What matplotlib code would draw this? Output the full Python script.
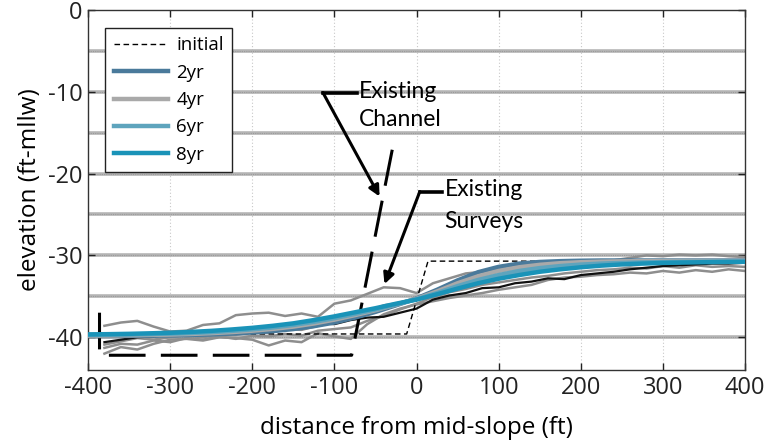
import numpy as np
import matplotlib
matplotlib.use("Agg")
import matplotlib.pyplot as plt

plt.rcParams["font.family"] = ["Open Sans", "DejaVu Sans"]

# ---- model profiles (elevation, ft-mllw) on a 25 ft station grid ----
x_model = np.arange(-400, 401, 25)
yr2 = [-39.85, -39.85, -39.83, -39.80, -39.77, -39.72, -39.65, -39.55, -39.42, -39.25,
       -39.00, -38.65, -38.20, -37.60, -36.90, -36.10, -35.25, -34.20, -33.05, -32.05,
       -31.40, -31.00, -30.80, -30.70, -30.65, -30.62, -30.62, -30.62, -30.62, -30.62,
       -30.62, -30.62, -30.62]
yr4 = [-39.80, -39.79, -39.76, -39.72, -39.67, -39.60, -39.50, -39.37, -39.20, -38.98,
       -38.70, -38.32, -37.85, -37.30, -36.70, -36.00, -35.30, -34.40, -33.40, -32.55,
       -31.90, -31.45, -31.15, -30.95, -30.83, -30.76, -30.72, -30.70, -30.69, -30.68,
       -30.68, -30.68, -30.68]
yr6 = [-39.72, -39.70, -39.67, -39.62, -39.56, -39.48, -39.37, -39.22, -39.03, -38.80,
       -38.50, -38.12, -37.67, -37.15, -36.60, -36.00, -35.35, -34.60, -33.75, -33.00,
       -32.40, -31.90, -31.55, -31.30, -31.12, -31.00, -30.92, -30.86, -30.82, -30.79,
       -30.77, -30.76, -30.75]
yr8 = [-39.65, -39.62, -39.58, -39.52, -39.45, -39.35, -39.22, -39.05, -38.85, -38.60,
       -38.30, -37.90, -37.45, -36.95, -36.45, -35.90, -35.40, -34.75, -34.05, -33.40,
       -32.85, -32.40, -32.00, -31.70, -31.45, -31.25, -31.10, -31.00, -30.92, -30.87,
       -30.83, -30.80, -30.78]

# ---- initial (design) profile ----
x_init = [-400, -12, 14, 400]
y_init = [-39.6, -39.6, -30.7, -30.7]

# ---- existing channel ----
x_chan = [-386, -386, -79, -29]
y_chan = [-37.0, -42.2, -42.2, -16.8]

# ---- existing surveys on a 20 ft station grid ----
x_surv = np.arange(-380, 401, 20)
survey_a = [-38.6, -38.2, -38.0, -38.7, -39.3, -39.2, -38.5, -38.3, -37.3, -37.1,
            -37.0, -37.4, -37.1, -37.5, -35.9, -35.5, -34.7, -33.9, -34.0, -34.6,
            -33.4, -32.8, -32.2, -32.0, -31.7, -31.6, -31.4, -31.3, -31.2, -31.0,
            -30.9, -30.6, -30.3, -30.0, -30.1, -29.9, -30.0, -29.9, -30.1, -30.2]
survey_b = [-42.0, -41.2, -41.5, -40.8, -40.3, -40.2, -40.4, -40.0, -40.1, -40.3,
            -41.0, -40.4, -40.6, -39.5, -39.9, -40.2, -38.4, -37.2, -36.5, -36.0,
            -35.6, -35.2, -34.9, -34.6, -34.2, -33.9, -33.6, -33.0, -32.7, -32.6,
            -32.4, -32.3, -32.1, -32.2, -31.9, -32.1, -31.8, -32.0, -31.7, -31.9]
survey_c = [-40.9, -40.5, -40.1, -40.3, -40.0, -39.8, -40.0, -39.6, -39.7, -39.4,
            -39.5, -39.0, -39.1, -38.6, -38.2, -37.3, -36.9, -36.1, -35.8, -35.3,
            -34.5, -33.9, -33.5, -33.0, -32.6, -32.3, -32.0, -31.8, -31.7, -31.4,
            -31.3, -31.1, -31.2, -30.9, -31.0, -30.8, -30.9, -30.7, -30.9, -30.8]
survey_d = [-41.3, -40.8, -40.9, -40.4, -40.6, -40.1, -40.3, -39.9, -40.2, -39.8,
            -39.9, -39.6, -39.8, -39.2, -39.0, -38.8, -38.0, -37.4, -36.6, -35.9,
            -35.1, -34.5, -34.1, -33.6, -33.3, -33.0, -32.7, -32.5, -32.2, -32.0,
            -31.8, -31.7, -31.5, -31.6, -31.3, -31.5, -31.2, -31.4, -31.3, -31.4]
survey_k = [-40.6, -40.3, -40.0, -39.9, -39.7, -39.8, -39.5, -39.6, -39.3, -39.1,
            -39.2, -38.8, -38.7, -38.3, -38.4, -37.9, -37.6, -37.5, -37.0, -36.5,
            -35.4, -34.9, -34.6, -34.0, -33.9, -33.4, -33.2, -32.8, -32.9, -32.4,
            -32.2, -32.0, -31.7, -31.5, -31.3, -31.2, -31.1, -31.0, -31.0, -30.9]

x_ticks = [-400, -300, -200, -100, 0, 100, 200, 300, 400]
y_ticks = [-40, -30, -20, -10, 0]
band_levels = [-5, -10, -15, -20, -25, -30, -35, -40]

fig = plt.figure(figsize=(7.68, 4.44), dpi=100)
ax = fig.add_axes([0.1146, 0.1667, 0.8555, 0.811])

# grid: dotted verticals, heavy gray horizontals every 5 ft
for xv in x_ticks[1:-1]:
    ax.axvline(xv, color="#c8c8c8", lw=0.8, ls=(0, (1, 2)), zorder=0)
for yv in band_levels:
    ax.axhline(yv, color="#b5b5b5", lw=2.6, zorder=0.5)
    ax.axhline(yv, color="#9a9a9a", lw=0.8, ls=(0, (1, 1)), zorder=0.6)

# existing surveys
for s in (survey_a, survey_b, survey_c, survey_d):
    ax.plot(x_surv, s, color="#8e8e8e", lw=1.8, zorder=2)
ax.plot(x_surv, survey_k, color="#111111", lw=1.6, zorder=2.5)

# existing channel
ax.plot(x_chan, y_chan, color="black", lw=2.2, ls=(0, (12, 5)), zorder=3)

# initial profile
ax.plot(x_init, y_init, color="black", lw=1.0, ls=(0, (4, 2.5)), zorder=3,
        label="initial")

# model profiles
ax.plot(x_model, yr2, color="#4a7a9b", lw=3.2, zorder=4, label="2yr")
ax.plot(x_model, yr4, color="#a9a9a9", lw=3.2, zorder=4, label="4yr")
ax.plot(x_model, yr6, color="#5ea4bd", lw=3.2, zorder=4, label="6yr")
ax.plot(x_model, yr8, color="#1a93b8", lw=3.2, zorder=4, label="8yr")

# annotations
note_font = dict(fontsize=16.5, family=["Lato", "DejaVu Sans"],
                 va="center", ha="left", zorder=5)
arrow = dict(arrowstyle="-|>", color="black", lw=2.2, mutation_scale=16,
             shrinkA=0, shrinkB=0)
ax.plot([-114, -73], [-10.1, -10.1], color="black", lw=2.6, zorder=5)
ax.annotate("", xy=(-45, -22.8), xytext=(-114, -10.1), arrowprops=arrow, zorder=5)
ax.text(-70, -10.0, "Existing", **note_font)
ax.text(-70, -13.4, "Channel", **note_font)

ax.plot([4, 31], [-22.2, -22.2], color="black", lw=2.6, zorder=5)
ax.annotate("", xy=(-39, -33.5), xytext=(4, -22.2), arrowprops=arrow, zorder=5)
ax.text(34, -22.0, "Existing", **note_font)
ax.text(34, -25.9, "Surveys", **note_font)

ax.set_xlim(-400, 400)
ax.set_ylim(-44, 0)
ax.set_xticks(x_ticks)
ax.set_yticks(y_ticks)
ax.set_xticklabels([str(v) for v in x_ticks])
ax.set_yticklabels([str(v) for v in y_ticks])
ax.tick_params(direction="in", top=True, right=True, length=5, width=1,
               labelsize=17, colors="#222222", pad=4)
for sp in ax.spines.values():
    sp.set_color("#333333")
    sp.set_linewidth(1.0)

ax.set_xlabel("distance from mid-slope (ft)", fontsize=17.5, labelpad=12)
ax.set_ylabel("elevation (ft-mllw)", fontsize=17.5, labelpad=4)

leg = ax.legend(loc="upper left", bbox_to_anchor=(0.026, 0.95), fontsize=13.5,
                frameon=True, fancybox=False, framealpha=1, edgecolor="#222222",
                handlelength=2.9, handletextpad=0.45, labelspacing=0.5,
                borderpad=0.45, borderaxespad=0)
leg.get_frame().set_linewidth(1.0)
leg.set_zorder(6)

fig.savefig("out.png", dpi=100)
